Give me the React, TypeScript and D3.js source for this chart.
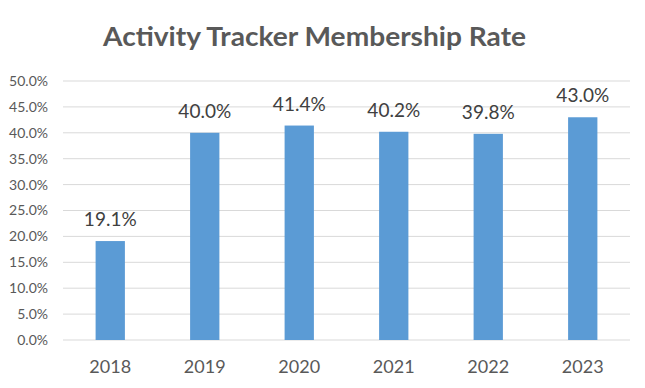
import * as d3 from "d3";

const years = ["2018", "2019", "2020", "2021", "2022", "2023"];
const rates = [19.1, 40.0, 41.4, 40.2, 39.8, 43.0];
const yTicks = [0, 5, 10, 15, 20, 25, 30, 35, 40, 45, 50];

const width = 645;
const height = 388;
const margin = { top: 81, right: 15, bottom: 48, left: 63 };

const App = () => {
  const x = d3
    .scaleBand<string>()
    .domain(years)
    .range([margin.left, width - margin.right])
    .paddingInner(0.69)
    .paddingOuter(0.345);

  const y = d3
    .scaleLinear()
    .domain([0, 50])
    .range([height - margin.bottom, margin.top]);

  const fmt = d3.format(".1f");

  return (
    <svg
      width={width}
      height={height}
      style={{ position: "absolute", left: 0, top: 0, background: "#fff" }}
      fontFamily="Lato, 'Open Sans', sans-serif"
    >
      <text
        x={314.5}
        y={46}
        textAnchor="middle"
        fontSize={27}
        fontWeight="bold"
        fill="#595959"
        textLength={423}
        lengthAdjust="spacingAndGlyphs"
      >
        Activity Tracker Membership Rate
      </text>

      {yTicks.map((t) => (
        <g key={t}>
          <line
            x1={margin.left}
            x2={width - margin.right}
            y1={y(t)}
            y2={y(t)}
            stroke="#D9D9D9"
            strokeWidth={1}
          />
          <text
            x={48}
            y={y(t)}
            dy="0.35em"
            textAnchor="end"
            fontSize={14}
            fill="#595959"
          >
            {fmt(t)}%
          </text>
        </g>
      ))}

      {years.map((yr, i) => (
        <g key={yr}>
          <rect
            x={x(yr)}
            y={y(rates[i])}
            width={x.bandwidth()}
            height={y(0) - y(rates[i])}
            fill="#5B9BD5"
          />
          <text
            x={(x(yr) ?? 0) + x.bandwidth() / 2}
            y={y(rates[i]) - 15}
            textAnchor="middle"
            fontSize={19}
            fill="#404040"
          >
            {fmt(rates[i])}%
          </text>
          <text
            x={(x(yr) ?? 0) + x.bandwidth() / 2}
            y={373}
            textAnchor="middle"
            fontSize={18}
            fill="#595959"
          >
            {yr}
          </text>
        </g>
      ))}
    </svg>
  );
};

export default App;
